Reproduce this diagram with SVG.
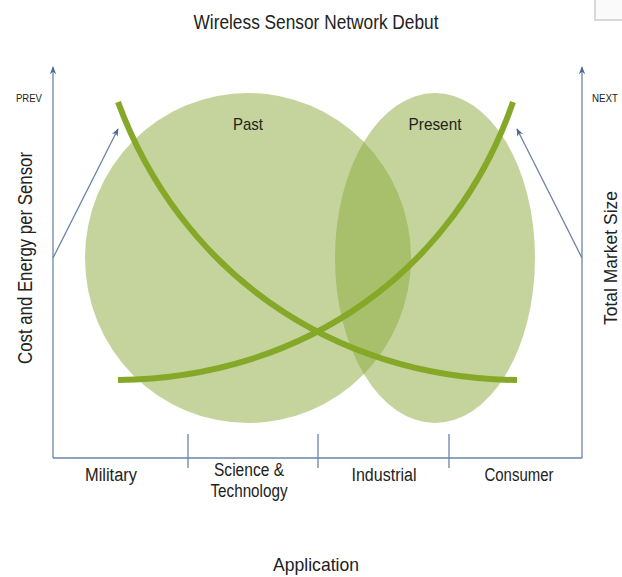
<svg xmlns="http://www.w3.org/2000/svg" width="622" height="577" viewBox="0 0 622 577">
<defs>
<style>
.t{font-family:"Liberation Sans",Arial,sans-serif;fill:#222}
.ax{stroke:#6b84a8;stroke-width:1.3;fill:none}
.curve{stroke:#86a828;stroke-width:6;fill:none;stroke-linecap:butt}
.ell{fill:#8ba939;fill-opacity:0.5}
</style>
<marker id="arr" viewBox="0 0 10 10" refX="9" refY="5" markerWidth="8" markerHeight="8" orient="auto" markerUnits="userSpaceOnUse">
<path d="M0,1 L10,5 L0,9 L3,5 Z" fill="#4f6a90"/>
</marker>
</defs>
<rect width="622" height="577" fill="#fff"/>
<rect x="595" y="-4" width="32" height="24" fill="#fafafa" stroke="#d8d8d8" stroke-width="2"/>
<text class="t" x="316" y="29" font-size="20" text-anchor="middle" textLength="245" lengthAdjust="spacingAndGlyphs">Wireless Sensor Network Debut</text>
<g id="past"><ellipse class="ell" cx="248" cy="258" rx="163" ry="165"/><text class="t" x="248" y="130" font-size="17" text-anchor="middle" textLength="30" lengthAdjust="spacingAndGlyphs">Past</text></g>
<g id="present"><ellipse class="ell" cx="435" cy="258" rx="100" ry="165"/><text class="t" x="435" y="130" font-size="17" text-anchor="middle" textLength="53" lengthAdjust="spacingAndGlyphs">Present</text></g>
<g id="connectors">
<path class="ax" d="M53,458 V67" marker-end="url(#arr)"/>
<path class="ax" d="M582,458 V67" marker-end="url(#arr)"/>
<path class="ax" d="M53,458 H582"/>
<path class="ax" d="M188,434 V468 M318,434 V468 M449,434 V468"/>
<path class="ax" d="M53,258 L118,129" marker-end="url(#arr)"/>
<path class="ax" d="M582,258 L517,129" marker-end="url(#arr)"/>
<path class="curve" d="M118,102 C180,270 330,378 517,380"/>
<path class="curve" d="M118,380 C305,378 455,270 513,102"/>
</g>
<g id="labels">
<text class="t" x="16" y="102" font-size="11" textLength="26" lengthAdjust="spacingAndGlyphs">PREV</text>
<text class="t" x="592" y="102" font-size="11" textLength="26" lengthAdjust="spacingAndGlyphs">NEXT</text>
<text class="t" transform="translate(32,258) rotate(-90)" x="0" y="0" font-size="20" text-anchor="middle" textLength="212" lengthAdjust="spacingAndGlyphs">Cost and Energy per Sensor</text>
<text class="t" transform="translate(617,258) rotate(-90)" x="0" y="0" font-size="19" text-anchor="middle" textLength="134" lengthAdjust="spacingAndGlyphs">Total Market Size</text>
<text class="t" x="111" y="481" font-size="18" text-anchor="middle" textLength="52" lengthAdjust="spacingAndGlyphs">Military</text>
<text class="t" x="249" y="476" font-size="18" text-anchor="middle" textLength="70" lengthAdjust="spacingAndGlyphs">Science &amp;</text>
<text class="t" x="249" y="497" font-size="18" text-anchor="middle" textLength="77" lengthAdjust="spacingAndGlyphs">Technology</text>
<text class="t" x="384" y="481" font-size="18" text-anchor="middle" textLength="65" lengthAdjust="spacingAndGlyphs">Industrial</text>
<text class="t" x="519" y="481" font-size="18" text-anchor="middle" textLength="69" lengthAdjust="spacingAndGlyphs">Consumer</text>
<text class="t" x="316" y="571" font-size="19" text-anchor="middle" textLength="86" lengthAdjust="spacingAndGlyphs">Application</text>
</g>
</svg>
